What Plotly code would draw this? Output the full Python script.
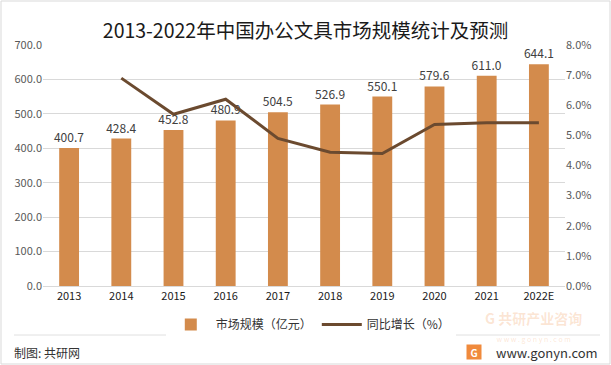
import plotly.graph_objects as go

years = ["2013", "2014", "2015", "2016", "2017", "2018", "2019", "2020", "2021", "2022E"]
market_size = [400.7, 428.4, 452.8, 480.9, 504.5, 526.9, 550.1, 579.6, 611.0, 644.1]
growth_years = ["2014", "2015", "2016", "2017", "2018", "2019", "2020", "2021", "2022E"]
growth_pct = [0.069, 0.057, 0.062, 0.049, 0.0444, 0.044, 0.0536, 0.0542, 0.0542]

FONT = "Noto Sans CJK SC, Liberation Sans, sans-serif"

fig = go.Figure()
fig.add_trace(go.Bar(
    x=years, y=market_size, name="市场规模（亿元）",
    marker=dict(color="#D38B4C", line=dict(width=0)),
    width=0.38,
    text=[f"{v:.1f}" for v in market_size], textposition="outside",
    constraintext="none",
    textfont=dict(size=12, color="#404040", family=FONT),
    cliponaxis=False,
))
fig.add_trace(go.Scatter(
    x=growth_years, y=growth_pct, name="同比增长（%）", yaxis="y2",
    mode="lines", line=dict(color="#6B4A2F", width=3),
))

fig.update_layout(
    width=611, height=365,
    margin=dict(l=43, r=46, t=45, b=79),
    paper_bgcolor="white", plot_bgcolor="white",
    font=dict(family=FONT, size=11, color="#404040"),
    title=dict(text="2013-2022年中国办公文具市场规模统计及预测", x=0.5, xanchor="center",
               y=0.915, yanchor="middle", font=dict(size=19.5, color="#1a1a1a", family=FONT)),
    showlegend=True,
    legend=dict(orientation="h", x=0.513, xanchor="center", y=-0.1, yanchor="top",
                font=dict(size=12, color="#333333"), itemwidth=40, traceorder="normal"),
    xaxis=dict(type="category", showgrid=False, showline=True, linecolor="#D9D9D9",
               ticks="", tickfont=dict(size=11, color="#1a1a1a")),
    yaxis=dict(range=[0, 700], dtick=100, tickformat=".1f", showgrid=True,
               gridcolor="#D9D9D9", gridwidth=1, zeroline=False, showline=False,
               tickfont=dict(size=11, color="#595959")),
    yaxis2=dict(range=[0, 0.08], dtick=0.01, tickformat=".1%", overlaying="y", side="right",
                showgrid=False, zeroline=False, showline=False,
                tickfont=dict(size=11, color="#595959")),
)

# outer border and footer separator
fig.add_shape(type="rect", xref="paper", yref="paper", x0=-42/522, x1=1+45/522,
              y0=-78/241, y1=1+44/241, line=dict(color="#D9D9D9", width=1))
fig.add_shape(type="line", xref="paper", yref="paper", x0=-29/522, x1=1+35/522,
              y0=-49/241, y1=-49/241, line=dict(color="#E0E0E0", width=1))
fig.add_annotation(text="制图: 共研网", xref="paper", yref="paper", x=-31/522, y=-66/241,
                   xanchor="left", yanchor="middle", showarrow=False,
                   font=dict(size=12, color="#333333"))
fig.add_annotation(text="www.gonyn.com", xref="paper", yref="paper", x=1+35/522, y=-66/241,
                   xanchor="right", yanchor="middle", showarrow=False,
                   font=dict(size=13, color="#333333"))
fig.add_annotation(text="<b>G</b>", xref="paper", yref="paper", x=(474-43)/522, y=-66/241,
                   xanchor="center", yanchor="middle", showarrow=False,
                   bgcolor="#F08A3C", font=dict(size=10, color="white"), width=12, height=12)
fig.add_annotation(text="<b>G 共研产业咨询</b><br><span style='font-size:7px'>w w w . g o n y n . c o m</span>",
                   xref="paper", yref="paper", x=(533-43)/522, y=-40/241,
                   xanchor="center", yanchor="middle", showarrow=False,
                   font=dict(size=14, color="rgba(240,138,60,0.22)"))

fig.write_html("out.html", config={"displayModeBar": False},
               post_script="document.body.style.margin='0';document.body.style.overflow='hidden';")
